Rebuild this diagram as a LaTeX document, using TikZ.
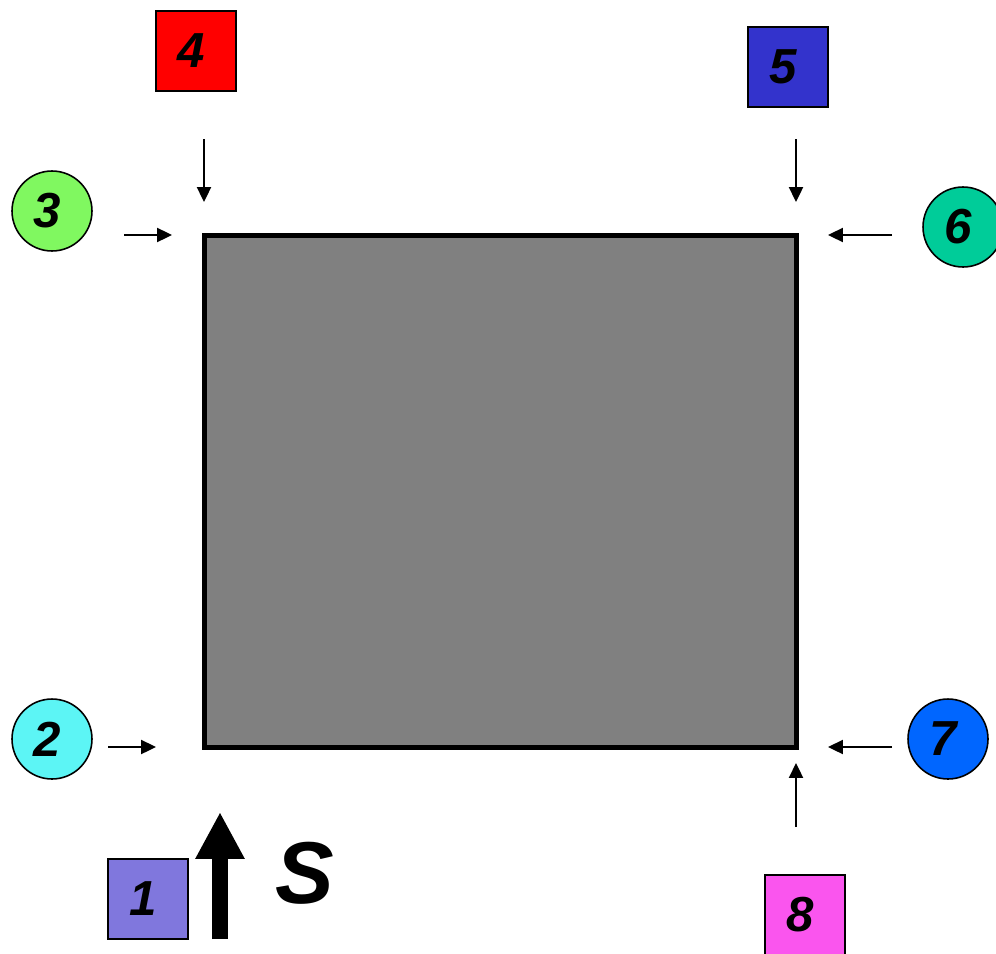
\documentclass[tikz,border=0pt]{standalone}
\usepackage{fontspec}
\setmainfont{Liberation Sans}
\usetikzlibrary{positioning,arrows.meta}
\definecolor{mkone}{HTML}{8077DD}
\definecolor{mktwo}{HTML}{5CF5F5}
\definecolor{mkthree}{HTML}{80F860}
\definecolor{mkfour}{HTML}{FF0000}
\definecolor{mkfive}{HTML}{3333CC}
\definecolor{mksix}{HTML}{00CC99}
\definecolor{mkseven}{HTML}{0066FF}
\definecolor{mkeight}{HTML}{FA55EE}
\definecolor{blockgray}{HTML}{808080}
\newcommand{\mknum}[1]{#1\kern5.6pt}
\tikzset{
  marker/.style ={draw=black, inner sep=0pt, minimum size=1.6cm,
                  font=\fontsize{28}{28}\selectfont\bfseries\itshape},
  sqmark/.style ={marker, rectangle, line width=1.3pt},
  cimark/.style ={marker, circle, line width=0.9pt},
  feed/.style   ={-{Triangle[length=8.5pt,width=8pt]}, line width=1.1pt},
  bigfeed/.style={-{Triangle[length=26.7pt,width=26.2pt]}, line width=9.1pt},
}

\begin{document}
\begin{tikzpicture}[x=0.02cm,y=-0.02cm]
    \useasboundingbox (0,0) rectangle (996,953);
    % the block
    \node[draw=black,fill=blockgray,line width=2.85pt,inner sep=0pt,
          minimum width=11.84cm,minimum height=10.24cm] (block) at (500.5,491.5) {};
    % markers round it
    \node[sqmark,fill=mkone]   (m1) at (148,899) {\mknum{1}};
    \node[cimark,fill=mktwo]   (m2) at (52,739)  {\mknum{2}};
    \node[cimark,fill=mkthree] (m3) at (52,211)  {\mknum{3}};
    \node[sqmark,fill=mkfour]  (m4) at (196,51)  {\mknum{4}};
    \node[sqmark,fill=mkfive]  (m5) at (788,67)  {\mknum{5}};
    \node[cimark,fill=mksix]   (m6) at (963,227) {\mknum{6}};
    \node[cimark,fill=mkseven] (m7) at (948,739) {\mknum{7}};
    \node[sqmark,fill=mkeight] (m8) at (805,915) {\mknum{8}};
    % arrow ends
    \coordinate (a2s) at (108,747);  \coordinate (a2e) at (156,747);
    \coordinate (a3s) at (124,235);  \coordinate (a3e) at (172,235);
    \coordinate (a4s) at (204,139);  \coordinate (a4e) at (204,202);
    \coordinate (a5s) at (796,139);  \coordinate (a5e) at (796,202);
    \coordinate (a6s) at (892,235);  \coordinate (a6e) at (828,235);
    \coordinate (a7s) at (892,747);  \coordinate (a7e) at (828,747);
    \coordinate (a8s) at (796,827);  \coordinate (a8e) at (796,763);
    \coordinate (stail) at (220,939); \coordinate (shead) at (220,812);
    \draw[feed] (a2s) -- (a2e);
    \draw[feed] (a3s) -- (a3e);
    \draw[feed] (a4s) -- (a4e);
    \draw[feed] (a5s) -- (a5e);
    \draw[feed] (a6s) -- (a6e);
    \draw[feed] (a7s) -- (a7e);
    \draw[feed] (a8s) -- (a8e);
    \draw[bigfeed] (stail) -- (shead);
    \node[font=\fontsize{50}{50}\selectfont\bfseries\itshape,inner sep=0pt] (slabel) at (305,873) {S};
\end{tikzpicture}
\end{document}
